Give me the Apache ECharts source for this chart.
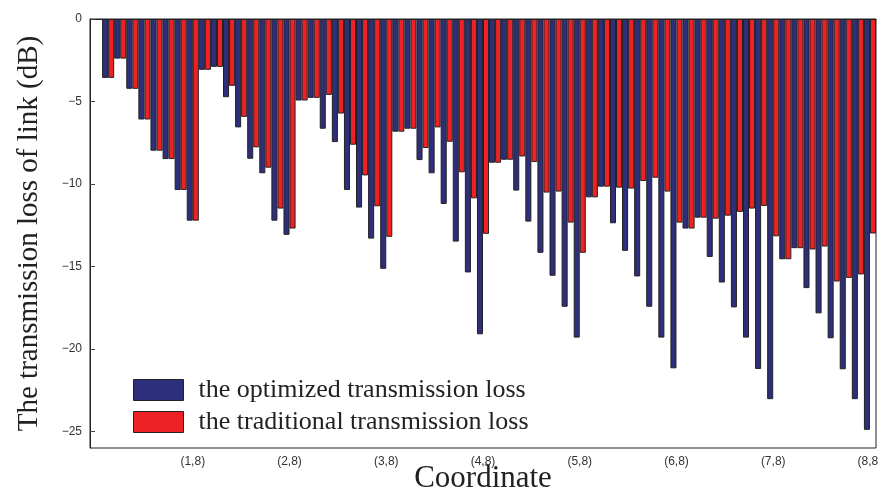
<!DOCTYPE html>
<html>
<head>
<meta charset="utf-8">
<script src="https://cdn.jsdelivr.net/npm/echarts@6/dist/echarts.min.js"></script>
<style>
  html, body { margin: 0; padding: 0; background: #fff; }
  #main { width: 878px; height: 490px; }
</style>
</head>
<body>
<div id="main"></div>
<script>
// tick labels shown on the x axis (one per row of the 8x8 grid)
var tickLabels = ['(1,8)', '(2,8)', '(3,8)', '(4,8)', '(5,8)', '(6,8)', '(7,8)', '(8,8)'];

// optimized transmission loss (dB), coordinates (1,1) .. (8,8)
var optimizedLoss = [
    -3.57, -2.40, -4.23, -6.09, -7.98, -8.49, -10.36, -12.22,
    -3.08, -2.90, -4.74, -6.57, -8.47, -9.35, -12.22, -13.08,
    -4.94, -4.78, -6.65, -7.46, -10.36, -11.43, -13.31, -15.14,
    -6.83, -6.65, -8.55, -9.35, -11.21, -13.49, -15.36, -19.11,
    -8.71, -8.53, -10.40, -12.28, -14.17, -15.56, -17.44, -19.31,
    -10.81, -10.16, -12.38, -14.05, -15.60, -17.44, -19.31, -21.17,
    -12.70, -12.04, -14.42, -15.97, -17.48, -19.31, -21.21, -23.04,
    -14.56, -13.89, -16.31, -17.84, -19.35, -21.23, -23.04, -24.90
];

// traditional transmission loss (dB)
var traditionalLoss = [
    -3.57, -2.40, -4.23, -6.09, -7.98, -8.49, -10.36, -12.22,
    -3.08, -2.90, -4.05, -5.93, -7.78, -9.01, -11.49, -12.70,
    -4.94, -4.78, -4.60, -5.73, -7.62, -9.48, -11.35, -13.20,
    -6.83, -6.65, -7.82, -6.57, -7.44, -9.29, -10.87, -13.02,
    -8.71, -8.53, -8.33, -8.67, -10.52, -10.46, -12.34, -14.17,
    -10.81, -10.16, -10.22, -10.28, -9.82, -9.62, -10.46, -12.34,
    -12.70, -12.04, -12.10, -11.92, -11.69, -11.49, -11.33, -13.17,
    -14.56, -13.89, -13.97, -13.79, -15.91, -15.69, -15.48, -13.00
];

var yTicks = [0, -5, -10, -15, -20, -25];

// categories: one empty slot first (extra left margin, like the original axis limits)
var categories = [''];
for (var i = 1; i <= 8; i++) {
    for (var j = 1; j <= 8; j++) {
        categories.push('(' + i + ',' + j + ')');
    }
}
function isTick(idx, name) {
    return tickLabels.indexOf(name) !== -1;
}

var chart = echarts.init(document.getElementById('main'), null, { renderer: 'canvas' });
var option = {
    animation: false,
    backgroundColor: '#fff',
    grid: {
        left: 90, right: 2, top: 19, bottom: 42,
        outerBoundsMode: 'none',
        containLabel: false,
        show: true,
        borderColor: '#222',
        borderWidth: 1
    },
    legend: {
        orient: 'vertical',
        left: 133,
        top: 377,
        padding: 0,
        itemWidth: 50,
        itemHeight: 21,
        itemGap: 6,
        icon: 'rect',
        itemStyle: { borderColor: '#222', borderWidth: 1 },
        textStyle: {
            fontFamily: 'Liberation Serif',
            fontSize: 26,
            color: '#222',
            padding: [0, 0, 0, 10]
        },
        data: ['the optimized transmission loss', 'the traditional transmission loss']
    },
    xAxis: {
        type: 'category',
        data: categories,
        boundaryGap: true,
        name: 'Coordinate',
        nameLocation: 'middle',
        nameGap: 15,
        nameMoveOverlap: false,
        nameTextStyle: { fontFamily: 'Liberation Serif', fontSize: 31, color: '#222', verticalAlign: 'top' },
        axisLine: { lineStyle: { color: '#222', width: 1 } },
        axisTick: { inside: true, length: 5, alignWithLabel: true, interval: isTick, lineStyle: { color: '#444' } },
        axisLabel: { interval: isTick, fontFamily: 'Liberation Sans', fontSize: 12, color: '#333', margin: 8 },
        splitLine: { show: false }
    },
    yAxis: {
        type: 'value',
        min: -26,
        max: 0,
        name: 'The transmission loss of link (dB)',
        nameLocation: 'middle',
        nameGap: 46,
        nameMoveOverlap: false,
        nameTextStyle: { fontFamily: 'Liberation Serif', fontSize: 29, color: '#222' },
        axisLine: { show: true, lineStyle: { color: '#222', width: 1 } },
        axisTick: { show: true, inside: true, length: 5, customValues: yTicks, lineStyle: { color: '#444' } },
        axisLabel: {
            customValues: yTicks,
            fontFamily: 'Liberation Sans', fontSize: 12, color: '#333', margin: 8,
            formatter: function (v) { return v < 0 ? '\u2212' + Math.abs(v) : String(v); }
        },
        splitLine: { show: false }
    },
    series: [
        {
            name: 'the optimized transmission loss',
            type: 'bar',
            data: ['-'].concat(optimizedLoss),
            barGap: '0%',
            barCategoryGap: '0%',
            itemStyle: { color: '#2d2e7c', borderColor: '#222', borderWidth: 1 }
        },
        {
            name: 'the traditional transmission loss',
            type: 'bar',
            data: ['-'].concat(traditionalLoss),
            barGap: '0%',
            barCategoryGap: '0%',
            itemStyle: { color: '#ee2226', borderColor: '#222', borderWidth: 1 }
        }
    ]
};
chart.setOption(option);
</script>
</body>
</html>
